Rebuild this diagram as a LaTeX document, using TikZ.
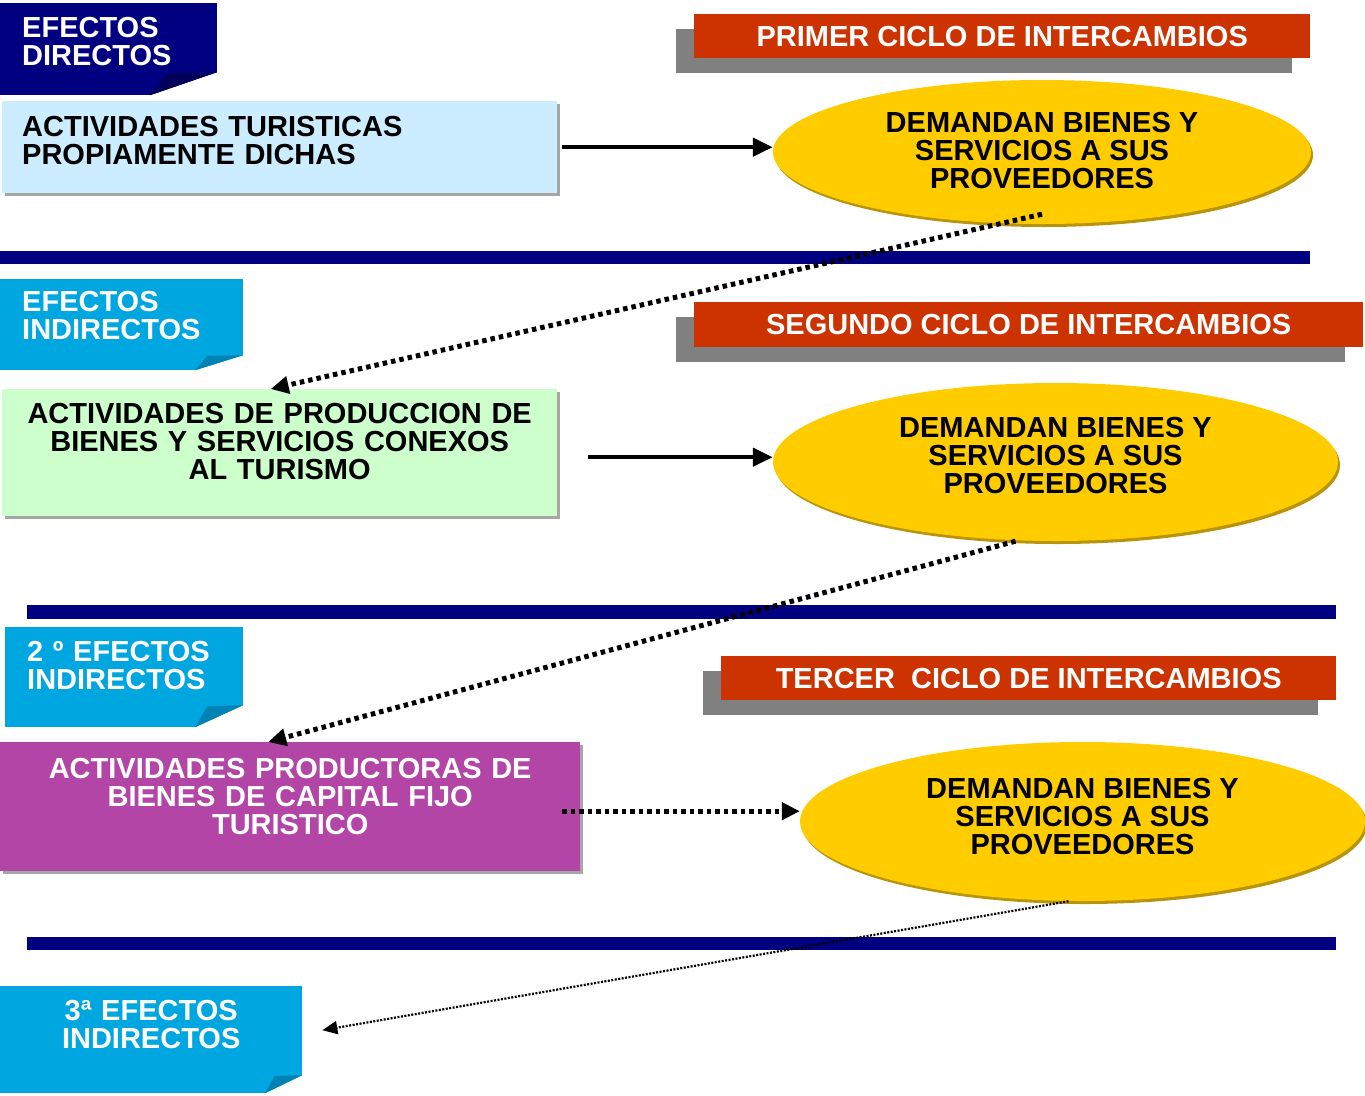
\documentclass[tikz,border=0pt]{standalone}
\usepackage{fontspec}
\setmainfont{Liberation Sans}
\usetikzlibrary{shapes.geometric,arrows.meta,shadows}
\definecolor{azulosc}{HTML}{000080}
\definecolor{foldosc}{HTML}{00005A}
\definecolor{celeste}{HTML}{00A6E0}
\definecolor{foldcel}{HTML}{0082B4}
\definecolor{cajaazul}{HTML}{CCECFF}
\definecolor{cajaverde}{HTML}{CCFFCC}
\definecolor{morado}{HTML}{B245A5}
\definecolor{rojo}{HTML}{CC3300}
\definecolor{amarillo}{HTML}{FFCC00}
\definecolor{dorado}{HTML}{B8940A}
\definecolor{sombra}{HTML}{808080}
\begin{document}
\begin{tikzpicture}[x=1pt,y=-1pt]
\tikzset{texto style/.style = {font=\bfseries\fontsize{29}{28}\selectfont},
  efecto style/.style n args = {4}{texto style, fill=#1, text=white, anchor=north west,
    inner xsep=22pt, inner ysep=0pt, align=left,
    path picture={
      \fill[white] ([yshift=#4pt]path picture bounding box.south east)
        -- (path picture bounding box.south east)
        -- ([xshift=-#3pt]path picture bounding box.south east) -- cycle;
      \fill[#2] ([yshift=#4pt]path picture bounding box.south east)
        -- ([xshift=-#3pt]path picture bounding box.south east)
        -- ([xshift=-0.75*#3pt,yshift=0.95*#4pt]path picture bounding box.south east) -- cycle;}},
  caja style/.style = {texto style, fill=#1, anchor=north west, inner xsep=20pt, inner ysep=0pt,
    drop shadow={shadow xshift=3pt, shadow yshift=-3pt, fill=sombra, opacity=.7}},
  ciclo style/.style = {texto style, fill=rojo, text=white, anchor=north west, inner sep=0pt,
    drop shadow={shadow xshift=-18pt, shadow yshift=-15pt, fill=sombra, opacity=1}},
  demanda style/.style = {texto style, ellipse, fill=amarillo, inner sep=0pt, align=center,
    drop shadow={shadow xshift=2pt, shadow yshift=-3pt, fill=dorado, opacity=1}},
  flecha style/.style = {line width=4.5pt, -{Triangle[length=20pt,width=18pt]}},
  puntos style/.style = {line width=5pt, dash pattern=on 4.5pt off 4pt, -{Triangle[length=18pt,width=17pt]}},
  puntitos style/.style = {line width=2.2pt, dash pattern=on 2pt off 1.5pt, -{Triangle[length=15pt,width=13pt]}}}
\useasboundingbox (0,0) rectangle (1365,1095);

% primer ciclo
\node[efecto style={azulosc}{foldosc}{67}{23}, minimum width=217pt, minimum height=92pt,
  text width=173pt, text depth=44pt] (ef1) at (0,3) {EFECTOS\\DIRECTOS};
\node[ciclo style, minimum width=616pt, minimum height=44pt] (c1) at (694,14) {PRIMER CICLO DE INTERCAMBIOS};
\node[caja style=cajaazul, minimum width=555pt, minimum height=92pt, text width=515pt,
  align=left, text depth=42pt] (b1) at (2,101) {ACTIVIDADES TURISTICAS\\PROPIAMENTE DICHAS};
\node[demanda style, minimum width=538pt, minimum height=144pt, text depth=4pt] (e1) at (1042,152)
  {DEMANDAN BIENES Y\\SERVICIOS A SUS\\PROVEEDORES};
\fill[azulosc] (0,251) rectangle (1310,264);

% segundo ciclo
\node[efecto style={celeste}{foldcel}{48}{15}, minimum width=243pt, minimum height=91pt,
  text width=199pt, text depth=46pt] (ef2) at (0,279) {EFECTOS\\INDIRECTOS};
\node[ciclo style, minimum width=669pt, minimum height=45pt] (c2) at (694,302) {SEGUNDO CICLO DE INTERCAMBIOS};
\node[caja style=cajaverde, minimum width=555pt, minimum height=127pt, text width=515pt,
  align=center, text depth=78pt] (b2) at (2,389)
  {ACTIVIDADES DE PRODUCCION DE\\BIENES Y SERVICIOS CONEXOS\\AL TURISMO};
\node[demanda style, minimum width=565pt, minimum height=158pt, text depth=14pt] (e2) at (1055.5,462)
  {DEMANDAN BIENES Y\\SERVICIOS A SUS\\PROVEEDORES};
\fill[azulosc] (27,605) rectangle (1336,619);

% tercer ciclo
\node[efecto style={celeste}{foldcel}{48}{22}, minimum width=238pt, minimum height=100pt,
  text width=194pt, text depth=52pt] (ef3) at (5,627) {2 º EFECTOS\\INDIRECTOS};
\node[ciclo style, minimum width=615pt, minimum height=44pt] (c3) at (721,656) {TERCER\ \ CICLO DE INTERCAMBIOS};
\node[caja style=morado, text=white, minimum width=580pt, minimum height=129pt, text width=540pt,
  align=center, text depth=76pt] (b3) at (0,742)
  {ACTIVIDADES PRODUCTORAS DE\\BIENES DE CAPITAL FIJO\\TURISTICO};
\node[demanda style, minimum width=565pt, minimum height=159pt, text depth=11pt] (e3) at (1082.5,821.5)
  {DEMANDAN BIENES Y\\SERVICIOS A SUS\\PROVEEDORES};
\fill[azulosc] (27,937) rectangle (1336,950);

\node[efecto style={celeste}{foldcel}{37}{18}, minimum width=302pt, minimum height=107pt,
  text width=258pt, align=center, text depth=58pt] (ef4) at (0,986) {3ª EFECTOS\\INDIRECTOS};

% conexiones
\coordinate (s2) at ([xshift=31pt,yshift=-4.5pt]b2.east);
\coordinate (s3) at ([xshift=-18pt,yshift=-4.5pt]b3.east);
\draw[flecha style] ([xshift=5pt]b1.east) -- (e1.west |- b1.east);
\draw[flecha style] (s2) -- (e2.west |- s2);
\draw[puntos style] (s3) -- (e3.west |- s3);
\draw[puntos style] ([yshift=10pt]e1.south) -- ([xshift=-9pt]b2.north);
\draw[puntos style] ([xshift=-40pt]e2.south) -- ([xshift=-22pt]b3.north);
\draw[puntitos style] ([xshift=-14pt]e3.south) -- ([xshift=20pt,yshift=9.5pt]ef4.east);
\end{tikzpicture}
\end{document}
